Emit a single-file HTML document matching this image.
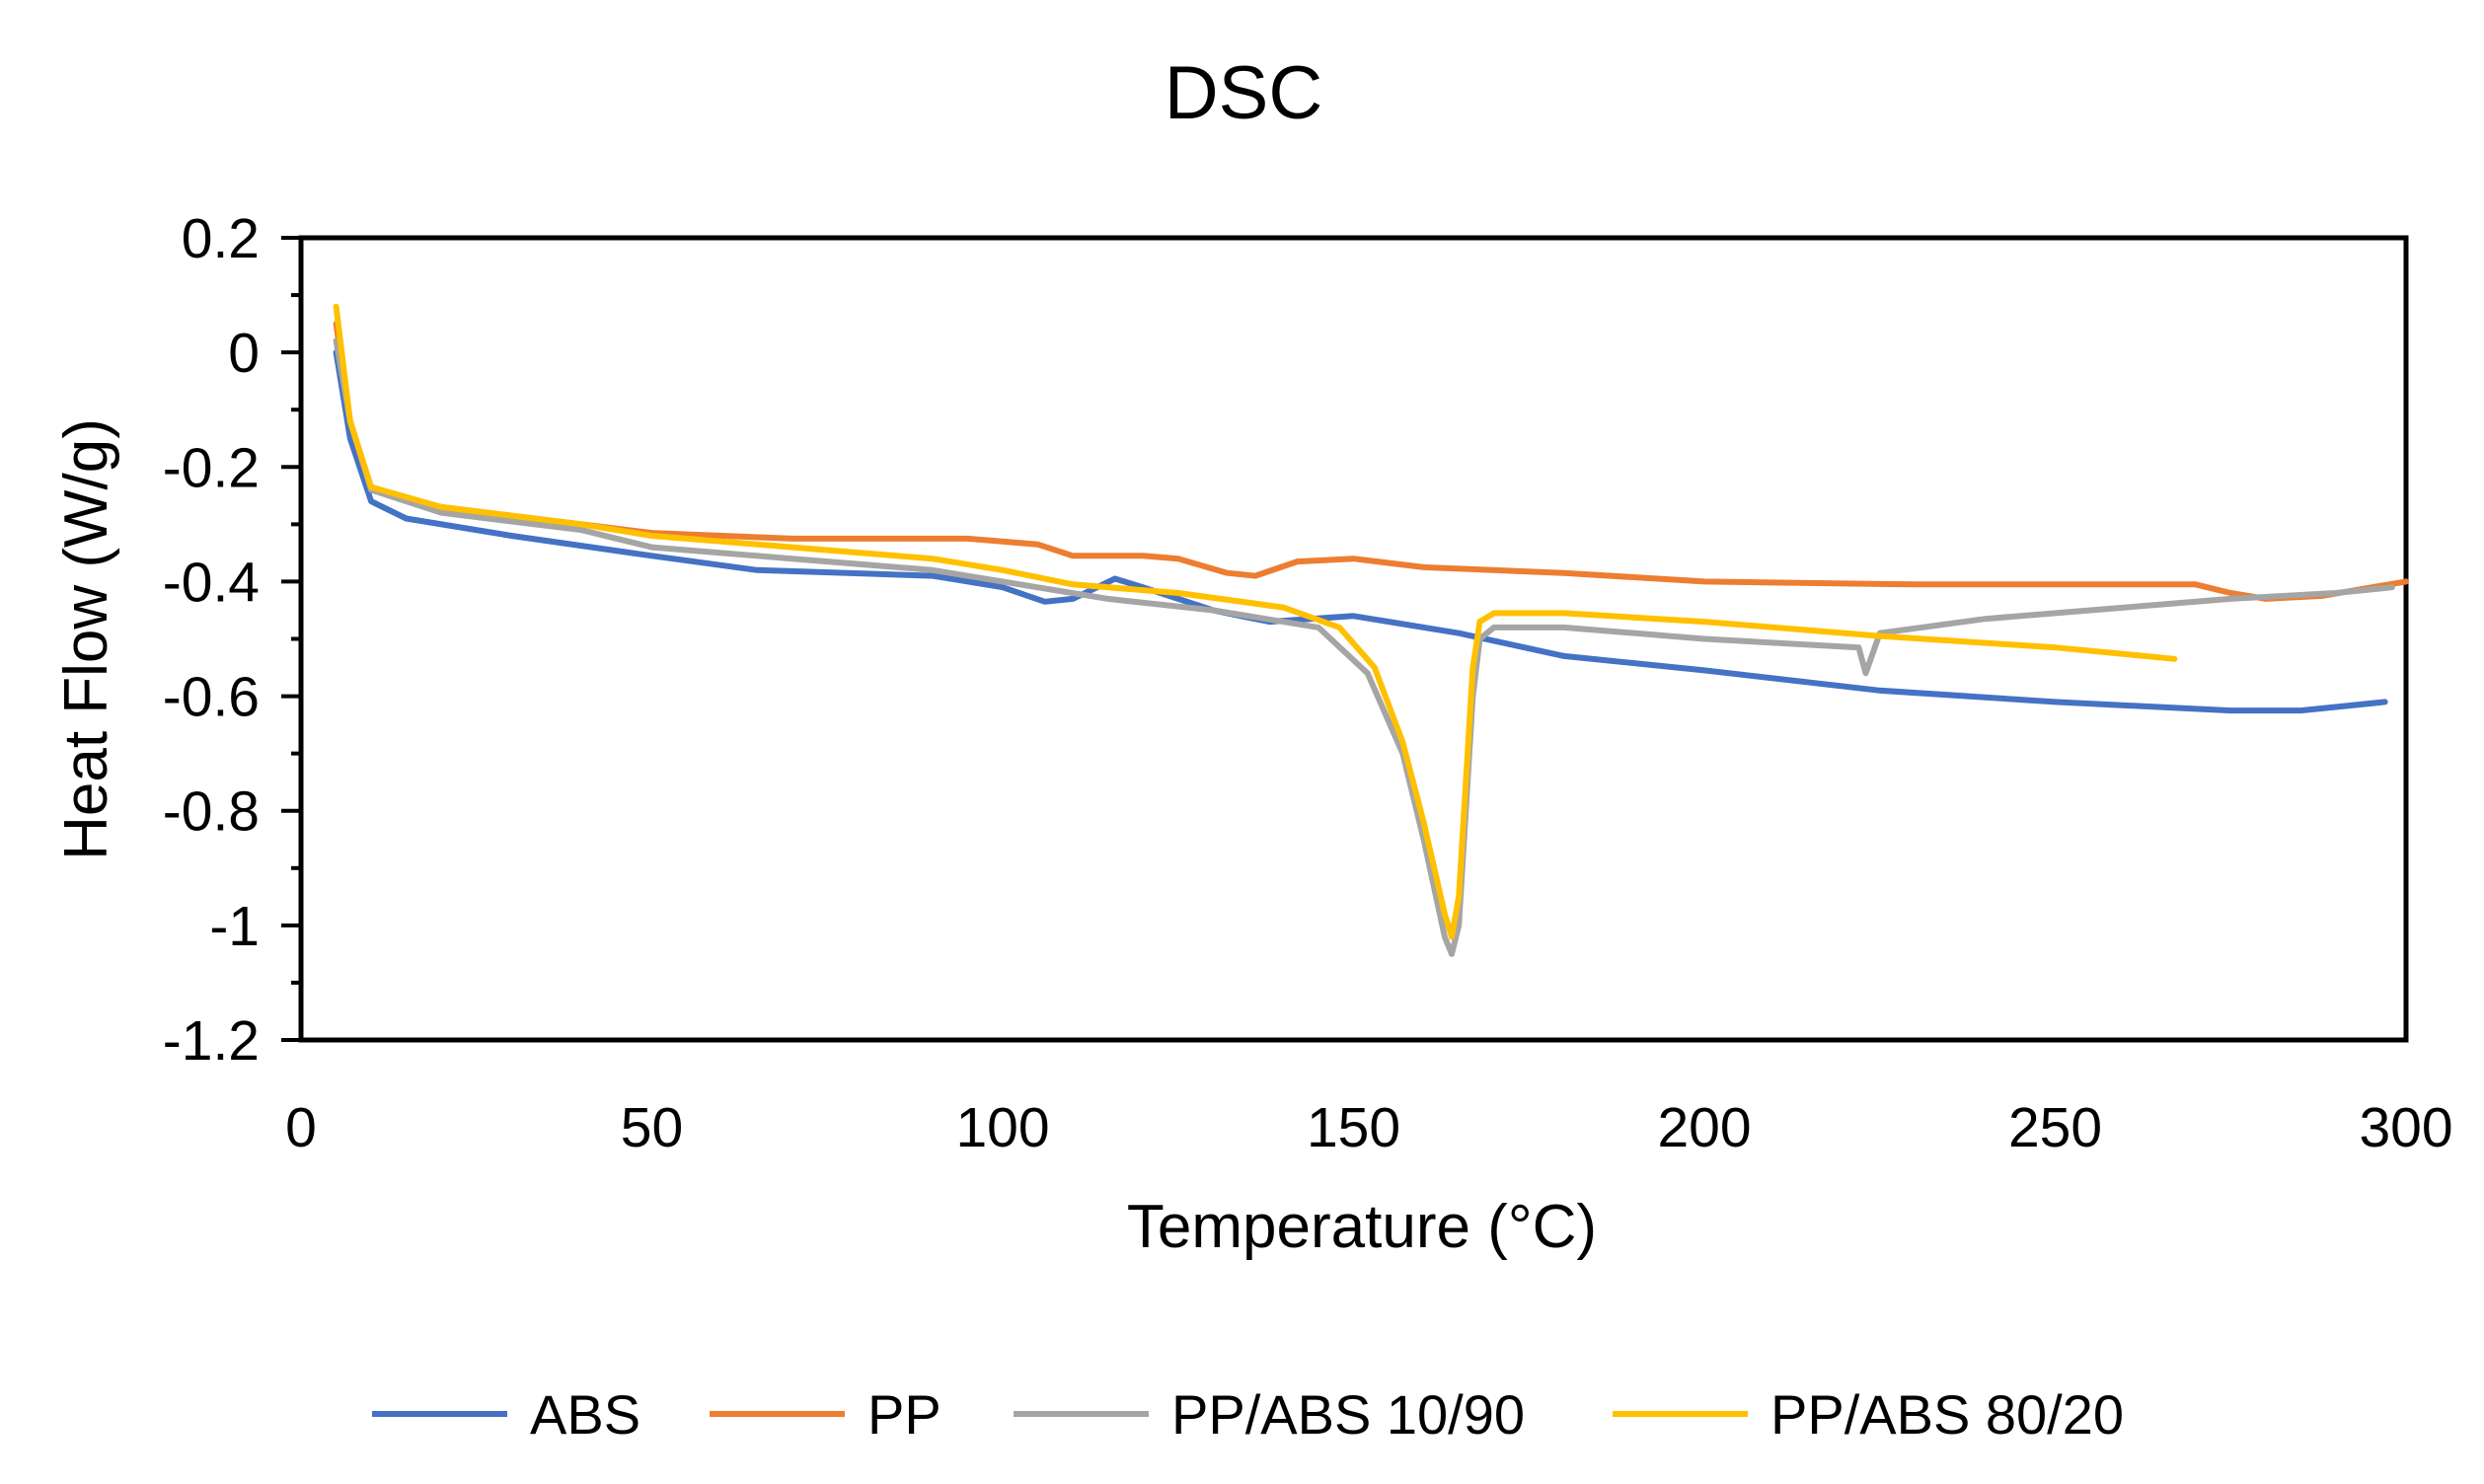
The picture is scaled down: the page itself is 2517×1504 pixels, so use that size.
<!DOCTYPE html>
<html><head><meta charset="utf-8"><style>
body{margin:0;background:#fff;}
svg text{font-family:"Liberation Sans",sans-serif;fill:#000;}
</style></head><body>
<svg id="chart" width="2517" height="1499" viewBox="0 0 2517 1499">
<text x="1260" y="120" font-size="76" text-anchor="middle">DSC</text>
<g id="axes"></g>
<g id="series"></g>
<text x="1380" y="1264" font-size="62" text-anchor="middle">Temperature (°C)</text>
<text transform="translate(108,648) rotate(-90)" font-size="62" text-anchor="middle">Heat Flow (W/g)</text>
<g id="legend"></g>
</svg>
<script>
const xTicks=[0,50,100,150,200,250,300];
const yTicks=[0.2,0,-0.2,-0.4,-0.6,-0.8,-1,-1.2];
const seriesNames=["ABS","PP","PP/ABS 10/90","PP/ABS 80/20"];
const seriesColors=["#4472C4","#ED7D31","#A5A5A5","#FFC000"];
const absT=[5,7,10,15,30,50,65,90,100,106,110,116,120,130,138,150,165,180,200,225,250,275,285,297];
const absV=[0,-0.15,-0.26,-0.29,-0.32,-0.355,-0.38,-0.39,-0.41,-0.435,-0.43,-0.395,-0.41,-0.45,-0.47,-0.46,-0.49,-0.53,-0.555,-0.59,-0.61,-0.625,-0.625,-0.61];
const ppT=[5,7,10,20,40,50,70,95,105,110,120,125,132,136,142,150,160,180,200,230,270,275,280,288,300];
const ppV=[0.05,-0.12,-0.24,-0.27,-0.3,-0.315,-0.325,-0.325,-0.335,-0.355,-0.355,-0.36,-0.385,-0.39,-0.365,-0.36,-0.375,-0.385,-0.4,-0.405,-0.405,-0.42,-0.43,-0.425,-0.4];
const g1T=[5,7,10,20,40,50,70,90,100,115,130,145,152,157,160,163,164,165,166,167,168,170,180,200,222,223,225,240,260,275,290,298];
const g1V=[0.02,-0.12,-0.24,-0.28,-0.31,-0.34,-0.36,-0.38,-0.4,-0.43,-0.45,-0.48,-0.56,-0.7,-0.85,-1.02,-1.05,-1.0,-0.8,-0.6,-0.5,-0.48,-0.48,-0.5,-0.515,-0.56,-0.49,-0.465,-0.445,-0.43,-0.42,-0.41];
const g2T=[5,7,10,20,40,50,70,90,100,110,125,140,148,153,157,160,163,164,165,166,167,168,170,180,200,225,250,267];
const g2V=[0.08,-0.12,-0.235,-0.27,-0.3,-0.32,-0.34,-0.36,-0.38,-0.405,-0.42,-0.445,-0.48,-0.55,-0.68,-0.82,-0.98,-1.02,-0.95,-0.75,-0.55,-0.47,-0.455,-0.455,-0.47,-0.495,-0.515,-0.535];

const X0=305,X1=2438,Y0=241,Y1=1054;
const sx=v=>X0+(v-0)/(300-0)*(X1-X0);
const sy=v=>Y0+(0.2-v)/(0.2+1.2)*(Y1-Y0);
const NS="http://www.w3.org/2000/svg";
function mk(tag,attrs,parent){const e=document.createElementNS(NS,tag);for(const k in attrs)e.setAttribute(k,attrs[k]);parent.appendChild(e);return e;}
const axes=document.getElementById('axes');
let frame=mk('rect',{x:X0,y:Y0,width:X1-X0,height:Y1-Y0,fill:'none',stroke:'#000','stroke-width':5},axes);


for(let i=0;i<yTicks.length;i++){
  const v=yTicks[i];
  let t=mk('line',{x1:X0-20,x2:X0,y1:sy(v),y2:sy(v),stroke:'#000','stroke-width':4},axes);
  
  
  if(i<yTicks.length-1){let m=mk('line',{x1:X0-10,x2:X0,y1:sy(v-0.1),y2:sy(v-0.1),stroke:'#000','stroke-width':4},axes);
  
  }
  let l=mk('text',{x:X0-42,y:sy(v)+20,'font-size':57,'text-anchor':'end'},axes);
  l.textContent=String(v);
  
  
}
for(const v of xTicks){
  let l=mk('text',{x:sx(v),y:1162,'font-size':57,'text-anchor':'middle'},axes);
  l.textContent=v;
  
  
}
const sT=[absT,ppT,g1T,g2T],sV=[absV,ppV,g1V,g2V];
const sg=document.getElementById('series');
for(let s=0;s<4;s++){
  let d='';
  for(let i=0;i<sT[s].length;i++)d+=(i?'L':'M')+sx(sT[s][i]).toFixed(1)+','+sy(sV[s][i]).toFixed(1);
  let p=mk('path',{d:d,fill:'none',stroke:seriesColors[s],'stroke-width':6,'stroke-linejoin':'round','stroke-linecap':'round'},sg);
  
  
}
const lg=document.getElementById('legend');
const lx=[377,719,1027,1634];
for(let s=0;s<4;s++){
  let ln=mk('line',{x1:lx[s],x2:lx[s]+137,y1:1433,y2:1433,stroke:seriesColors[s],'stroke-width':6},lg);
  
  
  let t=mk('text',{x:lx[s]+160,y:1453,'font-size':56},lg);
  t.textContent=seriesNames[s];
  
  
}
</script>
</body></html>
